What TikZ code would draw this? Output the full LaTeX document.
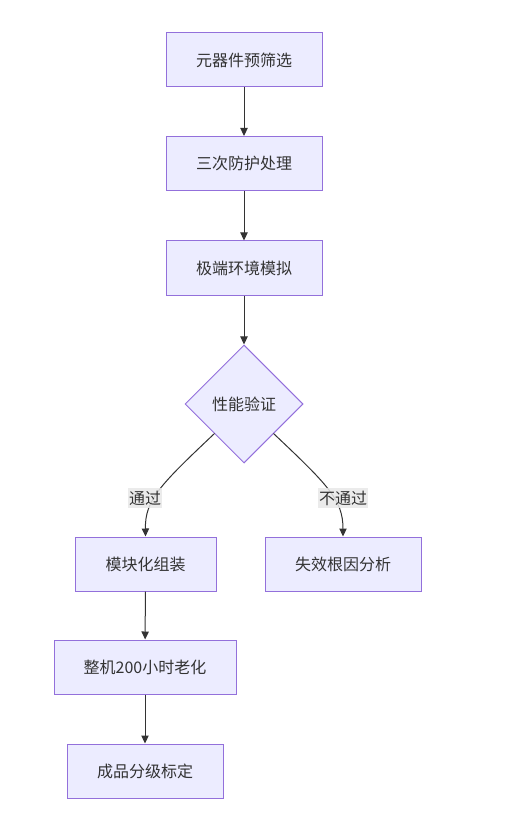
\documentclass[tikz,border=0pt]{standalone}
\usepackage{fontspec}
\setmainfont{Noto Sans CJK SC}
\usetikzlibrary{shapes.geometric,arrows.meta}
\definecolor{boxfill}{HTML}{ECECFF}
\definecolor{boxline}{HTML}{9370DB}
\definecolor{edgec}{HTML}{333333}
\definecolor{lblbg}{HTML}{E8E8E8}
\definecolor{txt}{HTML}{333333}
\tikzset{
  px/.style={x=0.75pt,y=-0.75pt},
  proc/.style={draw=boxline,fill=boxfill,line width=0.75pt,rectangle,inner sep=0pt,
    minimum height=54*0.75pt,text=txt,font=\fontsize{12pt}{14pt}\selectfont},
  dec/.style={draw=boxline,fill=boxfill,line width=0.75pt,diamond,aspect=1,inner sep=0pt,
    minimum width=118*0.75pt,minimum height=118*0.75pt,text=txt,font=\fontsize{12pt}{14pt}\selectfont},
  arr/.style={draw=edgec,line width=0.75pt,-{Triangle[length=6pt,width=5.5pt]}},
  lbl/.style={fill=lblbg,fill opacity=0.85,text opacity=1,text=txt,inner xsep=1pt,inner ysep=2pt,
    font=\fontsize{12pt}{14pt}\selectfont}
}
\begin{document}
\begin{tikzpicture}[px]
\useasboundingbox (0,0) rectangle (521,823);
\node[proc,minimum width=156*0.75pt] (a) at (244,60) {元器件预筛选};
\node[proc,minimum width=156*0.75pt] (b) at (244,163.5) {三次防护处理};
\node[proc,minimum width=156*0.75pt] (c) at (244,268) {极端环境模拟};
\node[dec] (d) at (244,404) {性能验证};
\node[proc,minimum width=141*0.75pt] (e) at (145.5,564) {模块化组装};
\node[proc,minimum width=156*0.75pt] (f) at (343,564) {失效根因分析};
\node[proc,minimum width=182*0.75pt] (g) at (145,667) {整机200小时老化};
\node[proc,minimum width=156*0.75pt] (h) at (145,771) {成品分级标定};
\draw[arr] (a) -- (b);
\draw[arr] (b) -- (c);
\draw[arr] (c) -- (d);
\coordinate (dl) at (214.5,433.5);
\coordinate (dr) at (273.5,433.5);
\draw[arr] (dl) .. controls (160,485) and (145,500) .. (e.north);
\draw[arr] (dr) .. controls (328,485) and (343,500) .. (f.north);
\node[lbl] (l1) at (145,498) {通过};
\node[lbl] (l2) at (343,498) {不通过};
\draw[arr] (e) -- (g);
\draw[arr] (g) -- (h);
\end{tikzpicture}
\end{document}
